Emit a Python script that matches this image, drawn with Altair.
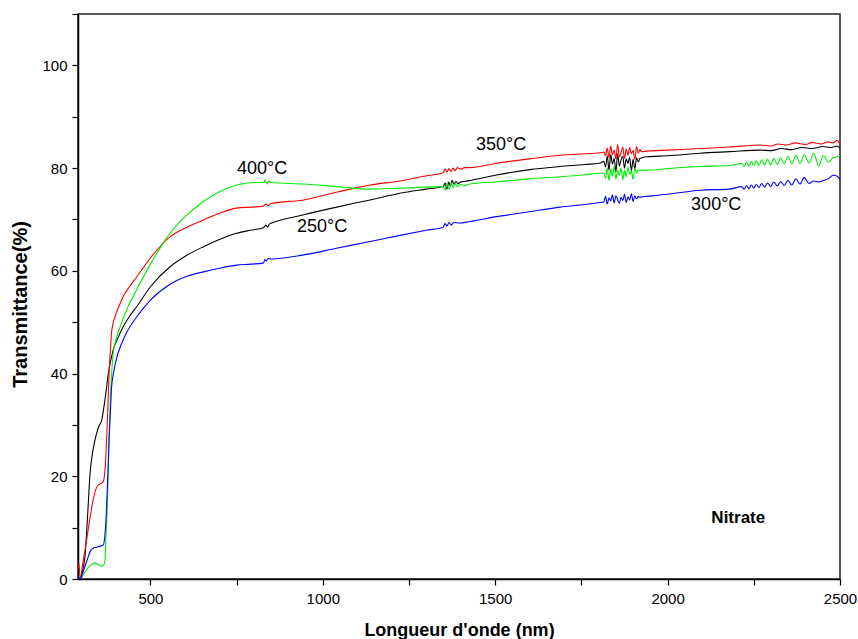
import altair as alt
import pandas as pd

# ---------------- data ----------------
noise_nm = [1815, 1820, 1825, 1830, 1835, 1840, 1845, 1850, 1855, 1860, 1865, 1870,
            1875, 1880, 1885, 1890, 1895, 1900, 1905, 1910, 1915, 1920, 1925]
osc_nm = [2215, 2222, 2229, 2236, 2243, 2250, 2257, 2265, 2273, 2281, 2290, 2299, 2308,
          2318, 2328, 2338, 2349, 2360, 2372, 2384, 2396, 2410, 2424, 2438, 2452, 2466,
          2480, 2492, 2500]

# 250°C (black)
black_nm_a = [290, 296, 303, 310, 318, 325, 332, 339, 349, 359, 368, 378, 392, 405, 421, 440,
              460, 500, 557, 600, 654, 700, 750, 790, 828, 835, 840, 845, 852, 944, 1040, 1137,
              1224, 1300, 1349, 1355, 1360, 1365, 1370, 1375, 1380, 1386, 1392, 1400, 1410, 1427,
              1500, 1600, 1688, 1760, 1805]
black_t_a = [0.8, 0.0, 1.5, 4.3, 12.5, 20.6, 24.5, 27.0, 29.5, 31.0, 34.8, 40.0, 44.6, 46.8, 49.1, 51.2,
             53.0, 56.9, 60.8, 62.8, 64.7, 66.1, 67.3, 67.9, 68.4, 68.9, 68.5, 69.1, 69.3, 70.9, 72.4, 73.8,
             75.1, 75.9, 76.4, 77.1, 75.9, 77.3, 76.5, 77.6, 76.9, 77.4, 77.0, 77.3, 77.4, 77.6,
             78.6, 79.7, 80.3, 80.7, 81.0]
black_t_noise = [81.3, 80.2, 82.4, 79.6, 82.6, 80.8, 81.9, 79.3, 82.8, 80.4, 81.6, 82.3,
                 80.0, 81.8, 80.9, 82.1, 79.5, 81.7, 79.8, 82.0, 81.2, 81.9, 82.0]
black_nm_b = [1940, 2000, 2095, 2180, 2269, 2300, 2330, 2360, 2390, 2420, 2450, 2475, 2492, 2500]
black_t_b = [82.2, 82.4, 82.9, 83.2, 83.5, 83.4, 83.8, 83.6, 84.0, 83.8, 84.2, 84.0, 84.3, 83.8]

# 350°C (red)
red_nm_a = [290, 293, 296, 305, 315, 325, 334, 342, 349, 357, 363, 368, 373, 377, 380, 384, 387,
            392, 397, 410, 421, 440, 460, 500, 557, 600, 654, 700, 750, 790, 828, 835, 842, 850,
            944, 1040, 1137, 1224, 1300, 1349, 1355, 1360, 1366, 1372, 1378, 1384, 1390, 1400,
            1412, 1427, 1500, 1600, 1688, 1760, 1805]
red_t_a = [2.1, 3.0, 0.1, 3.5, 7.6, 12.0, 15.4, 17.5, 18.3, 18.6, 18.9, 21.0, 27.0, 34.0, 40.0, 44.5, 47.8,
           49.8, 51.0, 53.3, 55.0, 57.0, 58.8, 62.5, 66.6, 68.3, 69.9, 71.2, 72.2, 72.4, 72.6, 73.0, 72.7, 73.1,
           73.8, 75.3, 76.7, 77.5, 78.5, 79.1, 79.8, 79.2, 79.9, 79.3, 80.0, 79.5, 80.1, 79.8,
           80.1, 80.1, 80.9, 81.8, 82.5, 82.8, 83.0]
red_t_noise = [83.1, 82.4, 83.9, 82.0, 84.3, 82.6, 83.5, 81.8, 84.6, 82.2, 83.0, 84.1,
               81.9, 83.7, 82.5, 84.0, 82.8, 83.4, 81.7, 84.2, 82.9, 83.6, 83.2]
red_nm_b = [1940, 2000, 2095, 2180, 2269, 2300, 2320, 2345, 2370, 2400, 2420, 2445, 2465, 2480, 2492, 2500]
red_t_b = [83.3, 83.5, 83.8, 84.1, 84.5, 84.3, 84.7, 84.5, 84.9, 84.6, 85.0, 84.7, 85.1, 84.9, 85.4, 84.6]

# 400°C (green)
green_nm_a = [290, 296, 305, 315, 327, 339, 349, 359, 365, 368, 371, 375, 379, 383, 387, 392, 400,
              412, 435, 460, 500, 557, 600, 654, 700, 750, 799, 828, 833, 838, 843, 850, 944, 1040,
              1137, 1224, 1300, 1349, 1355, 1360, 1366, 1372, 1378, 1384, 1390, 1400, 1412, 1427,
              1500, 1600, 1688, 1760, 1805]
green_t_a = [0.5, 0.0, 0.8, 1.8, 2.7, 3.1, 2.8, 2.5, 2.8, 3.5, 8.0, 14.1, 24.0, 33.5, 39.5, 43.9, 46.5,
             49.1, 53.0, 56.3, 61.3, 67.3, 70.5, 73.5, 75.4, 76.7, 77.2, 77.2, 77.7, 76.9, 77.5, 77.2, 76.9, 76.4,
             75.9, 76.1, 76.3, 76.4, 75.7, 77.0, 75.9, 77.2, 76.2, 77.0, 76.4, 76.8, 76.6, 76.9,
             77.3, 77.9, 78.3, 78.7, 79.0]
green_t_noise = [79.0, 78.0, 80.1, 77.6, 79.8, 78.4, 80.3, 77.9, 79.5, 78.6, 80.0, 77.7,
                 79.6, 78.3, 80.2, 78.8, 79.4, 77.8, 79.9, 79.0, 79.6, 79.5, 79.6]
green_nm_b = [1940, 2000, 2095, 2180]
green_t_b = [79.6, 79.9, 80.3, 80.5]
green_t_osc = [80.9, 80.3, 81.1, 80.4, 81.3, 80.5, 81.4, 80.5, 81.6, 80.6, 81.7, 80.6, 81.9,
               80.7, 82.0, 80.8, 82.3, 80.8, 82.5, 80.9, 82.6, 81.0, 82.9, 80.4, 82.4, 81.2,
               82.0, 82.2, 82.5]

# 300°C (blue)
blue_nm_a = [290, 296, 303, 310, 318, 325, 334, 344, 353, 363, 368, 373, 377, 380, 384, 387, 394,
             402, 415, 431, 460, 500, 557, 600, 654, 700, 750, 790, 828, 832, 836, 842, 850, 944,
             1040, 1137, 1224, 1300, 1349, 1355, 1360, 1366, 1372, 1380, 1395, 1427, 1500, 1600,
             1688, 1760, 1805]
blue_t_a = [0.5, 0.0, 1.0, 2.4, 4.0, 5.3, 6.0, 6.2, 6.4, 6.6, 8.5, 14.1, 21.0, 27.0, 32.5, 37.0, 40.5,
            43.0, 45.6, 48.0, 51.0, 54.3, 57.4, 58.8, 59.8, 60.5, 61.1, 61.3, 61.5, 62.2, 61.9, 62.4, 62.3, 63.1,
            64.4, 65.7, 66.9, 67.9, 68.5, 69.2, 68.7, 69.4, 68.9, 69.4, 69.3, 69.6, 70.5, 71.5,
            72.4, 72.9, 73.3]
blue_t_noise = [73.4, 74.5, 73.0, 74.2, 73.6, 74.8, 73.2, 74.6, 73.9, 73.1, 74.3, 73.7,
                74.9, 73.3, 74.4, 73.8, 75.0, 73.5, 74.6, 74.0, 74.5, 74.3, 74.4]
blue_nm_b = [1940, 2000, 2095, 2180]
blue_t_b = [74.5, 74.9, 75.7, 75.9]
blue_t_osc = [76.4, 75.9, 76.6, 76.0, 76.7, 76.1, 76.8, 76.2, 77.0, 76.3, 77.1, 76.4, 77.3,
              76.5, 77.4, 76.6, 77.6, 76.7, 77.9, 76.9, 78.2, 77.0, 77.5, 77.3, 77.6, 77.9,
              78.6, 78.4, 77.8]

series_names = ["250°C", "350°C", "400°C", "300°C"]
series_colors = ["#000000", "#ff0000", "#00ee00", "#0000ff"]

label_text = ["400°C", "250°C", "350°C", "300°C"]
label_nm = [824, 998, 1517, 2141]
label_t = [79.8, 68.5, 84.5, 72.8]
note_text = ["Nitrate"]
note_nm = [2205]
note_t = [11.9]

# ---------------- build table ----------------
series_data = {
    "250°C": (black_nm_a + noise_nm + black_nm_b, black_t_a + black_t_noise + black_t_b),
    "350°C": (red_nm_a + noise_nm + red_nm_b, red_t_a + red_t_noise + red_t_b),
    "400°C": (green_nm_a + noise_nm + green_nm_b + osc_nm, green_t_a + green_t_noise + green_t_b + green_t_osc),
    "300°C": (blue_nm_a + noise_nm + blue_nm_b + osc_nm, blue_t_a + blue_t_noise + blue_t_b + blue_t_osc),
}
rows = []
for name in series_names:
    xs, ys = series_data[name]
    for i, (a, b) in enumerate(zip(xs, ys)):
        rows.append({"nm": a, "T": b, "serie": name, "idx": i})
df = pd.DataFrame(rows)
labels_df = pd.DataFrame({"nm": label_nm, "T": label_t, "txt": label_text})
note_df = pd.DataFrame({"nm": note_nm, "T": note_t, "txt": note_text})

FONT = "Liberation Sans"
xscale = alt.Scale(domain=[290, 2500], nice=False, zero=False)
yscale = alt.Scale(domain=[0, 110], nice=False, zero=True)

x_axis = alt.Axis(
    values=[500, 750, 1000, 1250, 1500, 1750, 2000, 2250, 2500],
    labelExpr="datum.value % 500 == 0 ? datum.label : ''",
    format="d", grid=False, tickSize=6, tickColor="black", tickWidth=1.2,
    domainColor="black", domainWidth=1.5, labelFontSize=15, labelColor="black",
    labelFont=FONT, labelPadding=6, labelFlush=False,
    title="Longueur d'onde (nm)", titleFont=FONT, titleFontSize=18, titleFontWeight="bold",
    titleColor="black", titleX=381, titleY=51, titleBaseline="middle", titleAlign="center",
)
y_axis = alt.Axis(
    values=[0, 10, 20, 30, 40, 50, 60, 70, 80, 90, 100, 110],
    labelExpr="datum.value % 20 == 0 && datum.value <= 100 ? datum.label : ''",
    grid=False, tickSize=6, tickColor="black", tickWidth=1.2,
    domainColor="black", domainWidth=1.5, labelFontSize=15, labelColor="black",
    labelFont=FONT, labelPadding=5, labelFlush=False,
    title="Transmittance(%)", titleFont=FONT, titleFontSize=20, titleFontWeight="bold",
    titleColor="black", titleX=-58, titleY=290, titleBaseline="middle", titleAlign="center",
    titleAngle=270,
)

lines = alt.Chart(df).mark_line(strokeWidth=1.1, clip=True, interpolate="monotone").encode(
    x=alt.X("nm:Q", scale=xscale, axis=x_axis),
    y=alt.Y("T:Q", scale=yscale, axis=y_axis),
    color=alt.Color("serie:N", scale=alt.Scale(domain=series_names, range=series_colors), legend=None),
    detail="serie:N",
    order="idx:Q",
)

labels = alt.Chart(labels_df).mark_text(
    font=FONT, fontSize=18, color="black", align="center", baseline="middle"
).encode(x=alt.X("nm:Q", scale=xscale), y=alt.Y("T:Q", scale=yscale), text="txt:N")

note = alt.Chart(note_df).mark_text(
    font=FONT, fontSize=17, fontWeight="bold", color="black", align="center", baseline="middle"
).encode(x=alt.X("nm:Q", scale=xscale), y=alt.Y("T:Q", scale=yscale), text="txt:N")

chart = alt.layer(lines, labels, note).properties(
    width=762, height=565,
    autosize=alt.AutoSizeParams(type="none"),
    padding={"left": 78, "top": 14, "right": 18, "bottom": 60},
    background="white",
).configure_view(stroke="#222222", strokeWidth=1.5)

chart.save("out.html", embed_options={"renderer": "svg", "actions": False})
